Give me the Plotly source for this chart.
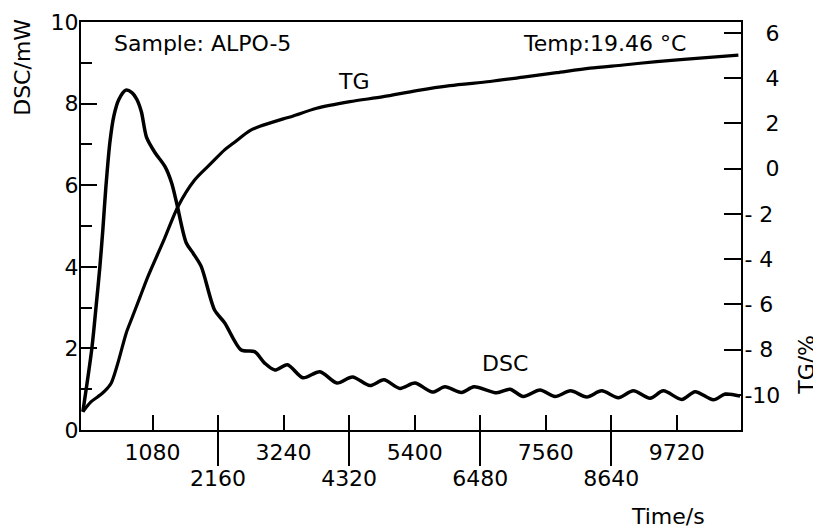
import plotly.graph_objects as go

# DSC curve (mW) vs time (s)
dsc_time = [-69, 79, 150, 211, 262, 310, 376, 442, 524, 640, 739, 821, 895, 981,
            1118, 1283, 1393, 1476, 1634, 1745, 1881, 2102, 2267, 2541, 2762, 2927,
            3097, 3303, 3558, 3839, 4119, 4375, 4663, 4894, 5158, 5405, 5694, 5900,
            6172, 6378, 6753, 6972, 7191, 7467, 7714, 7970, 8237, 8484, 8758, 9005,
            9281, 9500, 9803, 10023, 10325, 10520, 10765]
dsc_mw = [0.45, 2.0, 3.05, 4.0, 4.95, 5.95, 7.05, 7.7, 8.1, 8.33, 8.27, 8.1, 7.8, 7.17,
          6.8, 6.46, 6.06, 5.57, 4.59, 4.34, 4.01, 2.94, 2.63, 1.96, 1.92, 1.64,
          1.47, 1.6, 1.28, 1.43, 1.15, 1.3, 1.09, 1.23, 1.02, 1.15, 0.93, 1.06,
          0.92, 1.06, 0.91, 1.0, 0.82, 0.98, 0.82, 0.96, 0.81, 0.96, 0.79, 0.96,
          0.78, 0.96, 0.75, 0.94, 0.74, 0.88, 0.83]

# TG curve (%) vs time (s)
tg_time = [-69, 68, 178, 294, 397, 508, 645, 727, 871, 1003, 1278, 1497, 1773, 2046,
           2267, 2409, 2685, 2850, 3234, 3399, 3785, 4334, 4883, 5434, 5982, 6642,
           7191, 7742, 8291, 8840, 9391, 9940, 10737]
tg_pct = [-10.74, -10.3, -10.08, -9.82, -9.48, -8.59, -7.27, -6.69, -5.69, -4.77,
          -3.08, -1.68, -0.5, 0.24, 0.83, 1.12, 1.68, 1.87, 2.2, 2.33, 2.67, 2.96,
          3.18, 3.45, 3.67, 3.85, 4.04, 4.24, 4.44, 4.58, 4.73, 4.85, 5.02]

odd_ticks = [1080, 3240, 5400, 7560, 9720]
even_ticks = [2160, 4320, 6480, 8640]
tg_ticks = [-10, -8, -6, -4, -2, 0, 2, 4, 6]
tg_labels = ["-10", "- 8", "- 6", "- 4", "- 2",
             "\u2007\u20080", "\u2007\u20082", "\u2007\u20084", "\u2007\u20086"]

FONT = "DejaVu Sans"
x_range = [-100, 10780]

fig = go.Figure()
fig.add_trace(go.Scatter(x=dsc_time, y=dsc_mw, mode="lines",
                         line=dict(color="black", width=3.5, shape="spline", smoothing=0.8),
                         xaxis="x", yaxis="y"))
fig.add_trace(go.Scatter(x=tg_time, y=tg_pct, mode="lines",
                         line=dict(color="black", width=3.2, shape="spline", smoothing=0.8),
                         xaxis="x", yaxis="y2"))
# empty trace so the second (lower-label) time axis gets drawn
fig.add_trace(go.Scatter(x=[], y=[], xaxis="x2", yaxis="y", hoverinfo="skip"))

# the page body adds 8px, so margins are set 8px smaller on top/left
fig.update_layout(
    width=821, height=528,
    margin=dict(l=73, r=88, t=14, b=106),
    paper_bgcolor="white", plot_bgcolor="white",
    showlegend=False,
    font=dict(family=FONT, size=22, color="black"),
    xaxis=dict(
        range=x_range, showgrid=False, zeroline=False, automargin=False,
        showline=True, linecolor="black", linewidth=2, mirror=True,
        tickvals=odd_ticks, ticks="inside", ticklen=15, tickwidth=1.5,
        tickcolor="black", ticklabelstandoff=2,
        minor=dict(tickvals=even_ticks, ticks="inside", ticklen=15,
                   tickwidth=1.5, tickcolor="black"),
    ),
    xaxis2=dict(
        range=x_range, overlaying="x", anchor="y", side="bottom", automargin=False,
        showgrid=False, zeroline=False, showline=False,
        tickvals=even_ticks, ticks="outside", ticklen=35, tickwidth=1.5,
        tickcolor="black", ticklabelstandoff=-6,
    ),
    yaxis=dict(
        range=[0, 10], showgrid=False, zeroline=False, automargin=False,
        showline=True, linecolor="black", linewidth=2,
        tickvals=[0, 2, 4, 6, 8, 10], ticks="inside", ticklen=16, tickwidth=1.5,
        tickcolor="black", ticklabelstandoff=-4,
        minor=dict(tickvals=[1, 3, 5, 7, 9], ticks="inside", ticklen=11,
                   tickwidth=1.5, tickcolor="black"),
    ),
    yaxis2=dict(
        range=[-11.55, 6.48], overlaying="y", side="right", anchor="x",
        showgrid=False, zeroline=False, automargin=False,
        showline=True, linecolor="black", linewidth=2,
        tickvals=tg_ticks, ticktext=tg_labels, ticks="inside", ticklen=17,
        tickwidth=1.5, tickcolor="black", ticklabelstandoff=-3,
    ),
)

fig.add_annotation(x=409, y=9.47, xref="x", yref="y", text="Sample: ALPO-5",
                   showarrow=False, xanchor="left", yanchor="middle")
fig.add_annotation(x=9907, y=9.47, xref="x", yref="y", text="Temp:19.46 °C",
                   showarrow=False, xanchor="right", yanchor="middle")
fig.add_annotation(x=4400, y=8.54, xref="x", yref="y", text="TG", showarrow=False)
fig.add_annotation(x=6890, y=1.64, xref="x", yref="y", text="DSC", showarrow=False)
fig.add_annotation(x=-0.088, y=0.89, xref="paper", yref="paper", text="DSC/mW",
                   textangle=-90, showarrow=False, xanchor="center", yanchor="middle")
fig.add_annotation(x=1.098, y=0.159, xref="paper", yref="paper", text="TG/%",
                   textangle=-90, showarrow=False, xanchor="center", yanchor="middle")
fig.add_annotation(x=0.889, y=-0.213, xref="paper", yref="paper", text="Time/s",
                   showarrow=False, xanchor="center", yanchor="middle")

fig.write_html("out.html")
